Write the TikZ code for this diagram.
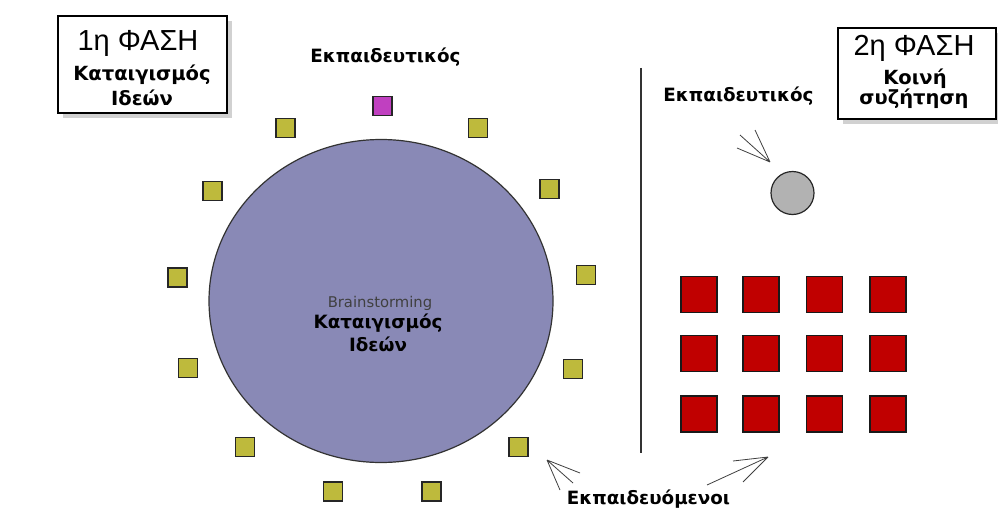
\documentclass[tikz,border=0pt]{standalone}
\usepackage{fontspec}
\setmainfont{Liberation Sans}
\newfontfamily\dvs{DejaVu Sans}
\usetikzlibrary{shapes.geometric}
\definecolor{circfill}{RGB}{137,137,182}
\definecolor{olivesq}{RGB}{190,186,60}
\definecolor{magsq}{RGB}{192,64,192}
\definecolor{redsq}{RGB}{192,0,0}
\definecolor{greyc}{RGB}{178,178,178}
\begin{document}
\begin{tikzpicture}[x=1pt,y=-1pt,
  phasebox/.style={draw=black,line width=2.6pt,fill=white,inner sep=0pt,rectangle},
  shadowbox/.style={fill=black!18,draw=none,inner sep=0pt,rectangle},
  bigtxt/.style={font=\fontsize{29}{31}\selectfont,inner sep=0pt},
  lbl/.style={font=\dvs\bfseries\fontsize{18.3}{20}\selectfont,inner sep=0pt},
  boxlbl/.style={font=\dvs\bfseries\fontsize{19.5}{22}\selectfont,inner sep=0pt},
  smalltxt/.style={font=\dvs\fontsize{14.8}{16}\selectfont,inner sep=0pt,text=black!75},
  stud/.style={draw=black!85,line width=1.3pt,fill=olivesq,minimum size=19pt,inner sep=0pt,rectangle},
  teach/.style={draw=black!85,line width=1.3pt,fill=magsq,minimum size=19pt,inner sep=0pt,rectangle},
  redbox/.style={draw=black!90,line width=1.3pt,fill=redsq,minimum size=36pt,inner sep=0pt,rectangle},
  pointer/.style={draw=black!75,line width=0.8pt}
]
\useasboundingbox (0,0) rectangle (998,511);
\fill[white] (0,0) rectangle (998,511);

% phase boxes
\node[shadowbox,minimum width=169pt,minimum height=97pt] (s1) at (147.5,69.5) {};
\node[phasebox,minimum width=169pt,minimum height=97pt] (b1) at (142.5,64.5) {};
\node[bigtxt] (b1a) at (138,43) {1η ΦΑΣΗ};
\node[boxlbl] (b1b) at (142,75) {Καταιγισμός};
\node[boxlbl] (b1c) at (142,98) {Ιδεών};

\node[shadowbox,minimum width=158pt,minimum height=91pt] (s2) at (922,78.5) {};
\node[phasebox,minimum width=158pt,minimum height=91pt] (b2) at (917,73.5) {};
\node[bigtxt] (b2a) at (914,48) {2η ΦΑΣΗ};
\node[boxlbl] (b2b) at (915,79) {Κοινή};
\node[boxlbl] (b2c) at (914,99) {συζήτηση};

% big circle
\node[ellipse,draw=black!80,line width=1.2pt,fill=circfill,minimum width=344pt,minimum height=323pt,inner sep=0pt] (circ) at (381,301) {};
\node[smalltxt] (bs) at (380,303) {Brainstorming};
\node[lbl] (k1) at (378,323) {Καταιγισμός};
\node[lbl] (k2) at (378,344) {Ιδεών};

% teacher label and square
\node[lbl] (t1) at (385.5,57) {Εκπαιδευτικός};
\node[teach] (tq) at (382.5,106) {};

% students around circle
\node[stud] (q1) at (285.5,128) {};
\node[stud] (q2) at (478,128) {};
\node[stud] (q3) at (212.5,191) {};
\node[stud] (q4) at (549.5,189) {};
\node[stud] (q5) at (177.5,277.5) {};
\node[stud] (q6) at (586,275) {};
\node[stud] (q7) at (188,368) {};
\node[stud] (q8) at (573,369) {};
\node[stud] (q9) at (245,447) {};
\node[stud] (q10) at (518.5,447) {};
\node[stud] (q11) at (333,491.5) {};
\node[stud] (q12) at (431.5,491.5) {};

% separator
\coordinate (vt) at (641,68);
\coordinate (vb) at (641,453);
\draw[black!80,line width=1.3pt] (vt) -- (vb);

% right teacher
\node[lbl] (t2) at (738.5,96) {Εκπαιδευτικός};
\node[circle,draw=black!85,line width=1.2pt,fill=greyc,minimum size=43pt,inner sep=0pt] (gc) at (792.5,193) {};
\coordinate (ta) at (770,162);
\coordinate (ta1) at (737,148);
\coordinate (ta2) at (740,135);
\coordinate (ta3) at (755,130);
\draw[pointer] (ta) -- (ta1) (ta) -- (ta2) (ta) -- (ta3);

% red grid
\foreach \c/\x in {1/699,2/761,3/824.5,4/888}{
  \foreach \r/\y in {1/294.5,2/353.5,3/414}{
    \node[redbox] (r\r\c) at (\x,\y) {};
  }
}

% students label and pointers
\node[lbl] (st) at (648.5,499) {Εκπαιδευόμενοι};
\coordinate (la) at (547,460);
\coordinate (la1) at (560,490);
\coordinate (la2) at (573,483);
\coordinate (la3) at (580,473);
\draw[pointer] (la) -- (la1) (la) -- (la2) (la) -- (la3);
\coordinate (ra) at (768,457);
\coordinate (ra1) at (707,485);
\coordinate (ra2) at (733,461);
\coordinate (ra3) at (743,482);
\draw[pointer] (ra) -- (ra1) (ra) -- (ra2) (ra) -- (ra3);
\end{tikzpicture}
\end{document}
